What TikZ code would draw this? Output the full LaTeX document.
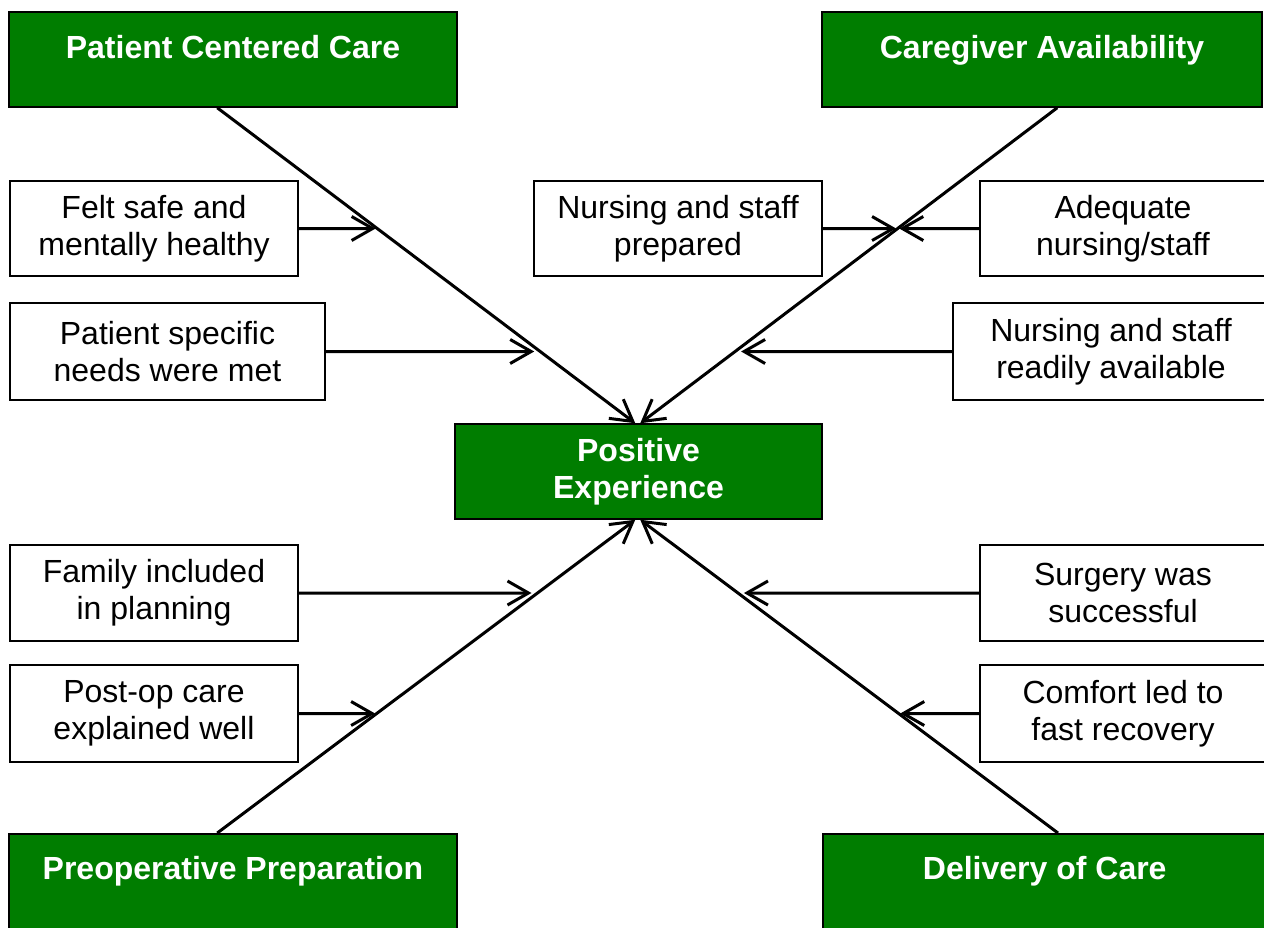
\documentclass[tikz,border=0pt]{standalone}
\usepackage{fontspec}
\setmainfont{Liberation Sans}
\usetikzlibrary{arrows.meta,calc}
\definecolor{boxgreen}{RGB}{0,125,0}
\begin{document}
\begin{tikzpicture}[x=0.5pt,y=-0.5pt,
  gbox/.style={draw=black, line width=0.75pt, fill=boxgreen, text=white,
    font=\fontsize{16}{18.5}\selectfont\bfseries, inner sep=0pt,
    text height=23pt, text depth=24.5pt},
  pebox/.style={draw=black, line width=0.75pt, fill=boxgreen, text=white,
    font=\fontsize{16}{18.5}\selectfont\bfseries, inner sep=0pt, align=center,
    minimum height=47.5pt, minimum width=183.5pt},
  wbox/.style={draw=black, line width=0.75pt, fill=white,
    font=\fontsize{16}{18.5}\selectfont, align=center, inner sep=0pt,
    minimum height=47.5pt},
  conn/.style={line width=1.5pt, -{Straight Barb[length=10.5pt,width=12pt,line width=1.5pt]}},
]
\useasboundingbox (0,0) rectangle (1264,927);

% green boxes
\node[gbox, minimum width=224pt] (pcc) at (233,59.5) {Patient Centered Care};
\node[gbox, minimum width=220pt] (ca) at (1042,59.5) {Caregiver Availability};
\node[gbox, minimum width=224pt, text depth=28pt, anchor=north] (preop) at (233,833) {Preoperative Preparation};
\node[gbox, minimum width=226pt, text depth=28pt, anchor=north west] (deliv) at (822,833) {\hspace*{-4pt}Delivery of Care};
\node[pebox] (pe) at (638.5,471.5) {Positive\\Experience};

% white boxes
\node[wbox, minimum width=144pt] (felt) at (154,228.5) {Felt safe and\\mentally healthy};
\node[wbox, minimum width=157.5pt, minimum height=48.5pt] (pspec) at (167.5,351.5) {Patient specific\\needs were met};
\node[wbox, minimum width=144pt] (nprep) at (678,228.5) {Nursing and staff\\prepared};
\node[wbox, minimum width=143pt] (adeq) at (1123,228.5) {Adequate\\nursing/staff};
\node[wbox, minimum width=158pt, minimum height=48.5pt] (nready) at (1111,351.5) {Nursing and staff\\readily available};
\node[wbox, minimum width=144pt, minimum height=48pt] (family) at (154,593) {Family included\\in planning};
\node[wbox, minimum width=144pt, minimum height=48.5pt] (postop) at (154,713.5) {Post-op care\\explained well};
\node[wbox, minimum width=143pt, minimum height=48pt] (surg) at (1123,593) {Surgery was\\successful};
\node[wbox, minimum width=143pt, minimum height=48.5pt] (comfort) at (1123,713.5) {Comfort led to\\fast recovery};

% diagonal connector end points
\coordinate (a1) at ($(pcc.south west)+(209,0)$);
\coordinate (b1) at ($(pe.north west)+(181,0)$);
\coordinate (a2) at ($(ca.south west)+(236,0)$);
\coordinate (b2) at ($(pe.north west)+(186,0)$);
\coordinate (a3) at ($(preop.north west)+(209,0)$);
\coordinate (b3) at ($(pe.south west)+(181,0)$);
\coordinate (a4) at ($(deliv.north west)+(236,0)$);
\coordinate (b4) at ($(pe.south west)+(186,0)$);

\draw[conn] (a1) -- (b1);
\draw[conn] (a2) -- (b2);
\draw[conn] (a3) -- (b3);
\draw[conn] (a4) -- (b4);

% horizontal connectors
\draw[conn, shorten >=0.8pt] (felt.east) -- (intersection of felt.east--nprep.west and a1--b1);
\draw[conn, shorten >=3pt] (pspec.east) -- (intersection of pspec.east--nready.west and a1--b1);
\draw[conn, shorten >=0.8pt] (nprep.east) -- (intersection of nprep.east--adeq.west and a2--b2);
\draw[conn, shorten >=0.8pt] (adeq.west) -- (intersection of nprep.east--adeq.west and a2--b2);
\draw[conn, shorten >=3pt] (nready.west) -- (intersection of pspec.east--nready.west and a2--b2);
\draw[conn, shorten >=3pt] (family.east) -- (intersection of family.east--surg.west and a3--b3);
\draw[conn, shorten >=0.8pt] (postop.east) -- (intersection of postop.east--comfort.west and a3--b3);
\draw[conn, shorten >=3pt] (surg.west) -- (intersection of family.east--surg.west and a4--b4);
\draw[conn, shorten >=0.8pt] (comfort.west) -- (intersection of postop.east--comfort.west and a4--b4);
\end{tikzpicture}
\end{document}
